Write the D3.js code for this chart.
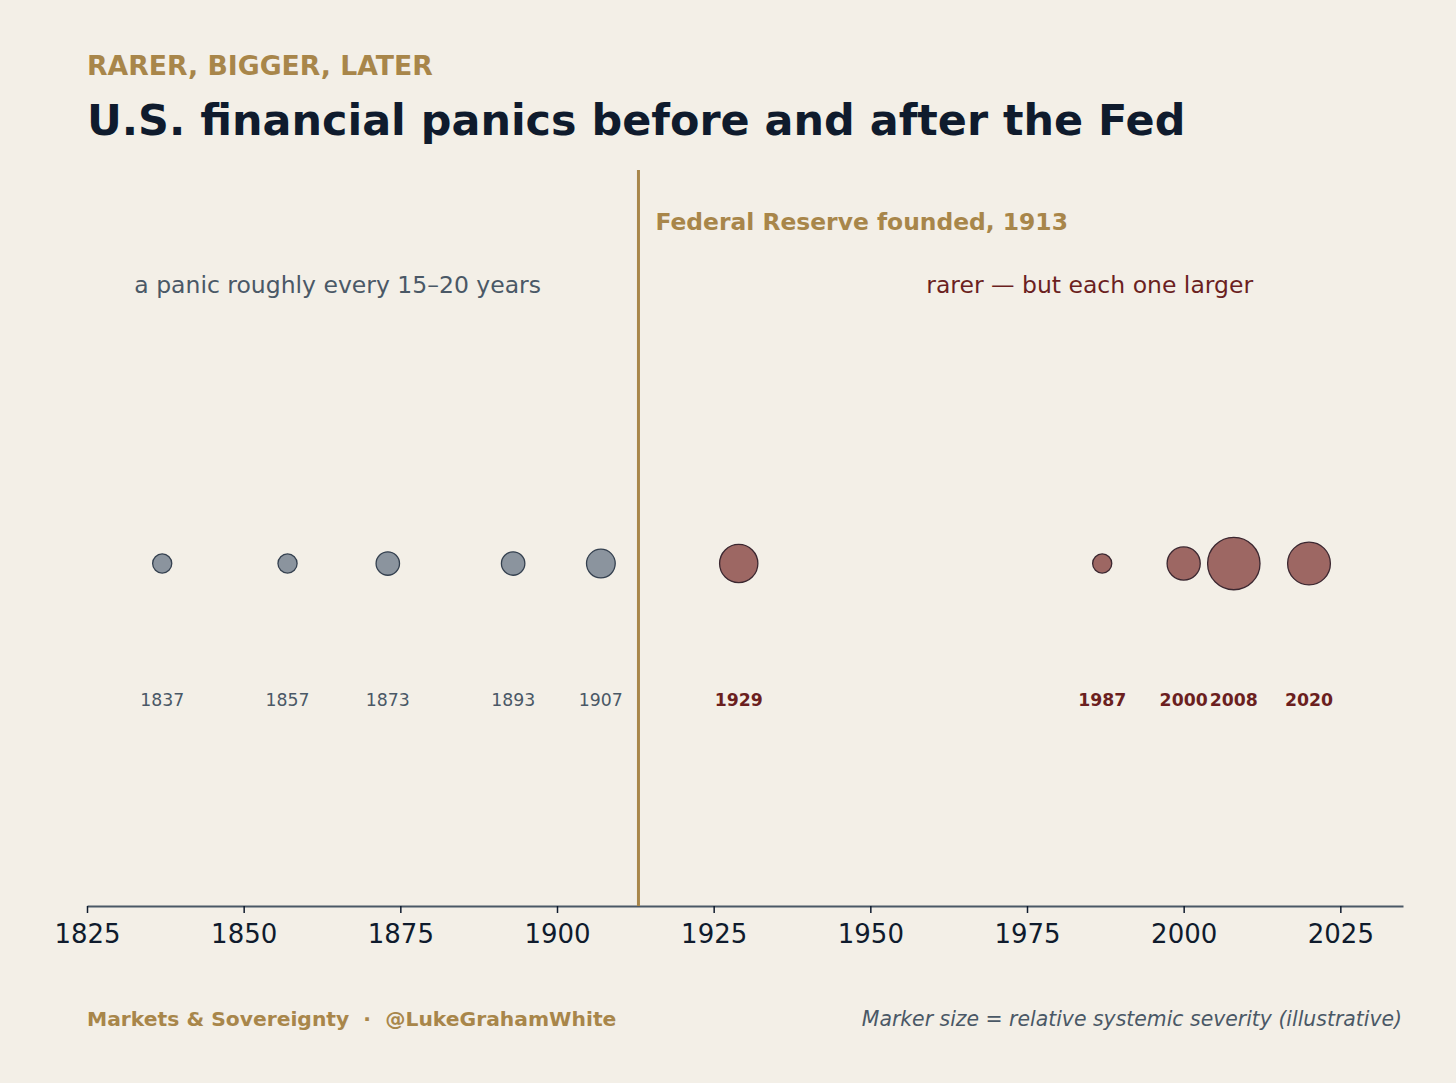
<!DOCTYPE html>
<html>
<head>
<meta charset="utf-8">
<script src="https://cdn.jsdelivr.net/npm/d3@7"></script>
<style>
  body { margin: 0; background: #f3efe7; }
  svg text { font-family: "DejaVu Sans", sans-serif; }
</style>
</head>
<body>
<div id="chart"></div>
<script>
// panic years and illustrative severity (marker area)
const years = [1837, 1857, 1873, 1893, 1907, 1929, 1987, 2000, 2008, 2020];
const severity = [2, 2, 3, 3, 4.5, 8, 2, 6, 15, 10];
const fedYear = 1913;
const xTicks = [1825, 1850, 1875, 1900, 1925, 1950, 1975, 2000, 2025];

const gold = '#a8864a', navy = '#0f1b2d', slate = '#4a5866', maroon = '#6b1f1f';

const W = 1456, H = 1083;
const margin = { top: 170, right: 53, bottom: 177, left: 87 };

const svg = d3.select('#chart').append('svg')
    .attr('width', W)
    .attr('height', H);

svg.append('rect').attr('width', W).attr('height', H).attr('fill', '#f3efe7');

const x = d3.scaleLinear().domain([1825, 2035]).range([margin.left, W - margin.right]);
const y = d3.scaleLinear().domain([-0.7, 0.8]).range([H - margin.bottom, margin.top]);
const r = d3.scaleSqrt().domain([0, 15]).range([0, 26.2]);

const data = years.map((yr, i) => ({ year: yr, sev: severity[i], post: yr > fedYear }));

// titles
svg.append('text')
    .attr('x', 87).attr('y', 75)
    .attr('fill', gold)
    .attr('font-weight', 'bold')
    .attr('font-size', 26.7)
    .text('RARER, BIGGER, LATER');

svg.append('text')
    .attr('x', 87).attr('y', 135)
    .attr('fill', navy)
    .attr('font-weight', 'bold')
    .attr('font-size', 42.9)
    .text('U.S. financial panics before and after the Fed');

// x axis
const xAxis = d3.axisBottom(x).tickValues(xTicks).tickFormat(d3.format('d'))
    .tickSize(7).tickSizeOuter(0).tickPadding(12);
const xAxisG = svg.append('g')
    .attr('transform', 'translate(0,' + (H - margin.bottom) + ')')
    .call(xAxis);
xAxisG.select('.domain').attr('stroke', slate).attr('stroke-width', 2);
xAxisG.selectAll('.tick line').attr('stroke', navy).attr('stroke-width', 1.5);
xAxisG.selectAll('.tick text')
    .attr('fill', navy)
    .attr('font-size', 26)
    .style('font-family', '"DejaVu Sans", sans-serif');

// Fed line
svg.append('line')
    .attr('x1', x(fedYear)).attr('x2', x(fedYear))
    .attr('y1', y(0.8)).attr('y2', y(-0.7))
    .attr('stroke', gold)
    .attr('stroke-width', 3);

svg.append('text')
    .attr('x', x(fedYear) + 17).attr('y', y(0.694))
    .attr('dominant-baseline', 'central')
    .attr('fill', gold)
    .attr('font-weight', 'bold')
    .attr('font-size', 23.4)
    .text('Federal Reserve founded, ' + fedYear);

// era notes
svg.append('text')
    .attr('x', x(1865)).attr('y', y(0.566))
    .attr('text-anchor', 'middle')
    .attr('dominant-baseline', 'central')
    .attr('fill', slate)
    .attr('font-size', 23.5)
    .text('a panic roughly every 15\u201320 years');

svg.append('text')
    .attr('x', x(1985)).attr('y', y(0.566))
    .attr('text-anchor', 'middle')
    .attr('dominant-baseline', 'central')
    .attr('fill', maroon)
    .attr('font-size', 23.5)
    .text('rarer \u2014 but each one larger');

// bubbles
svg.append('g').selectAll('circle')
    .data(data)
    .enter().append('circle')
    .attr('cx', d => x(d.year))
    .attr('cy', y(0) + 1)
    .attr('r', d => r(d.sev))
    .attr('fill', d => d.post ? '#9d6763' : '#8b949e')
    .attr('stroke', d => d.post ? '#3b2730' : '#34404f')
    .attr('stroke-width', 1.3);

// year labels
svg.append('g').selectAll('text')
    .data(data)
    .enter().append('text')
    .attr('x', d => x(d.year))
    .attr('y', y(-0.28))
    .attr('text-anchor', 'middle')
    .attr('dominant-baseline', 'central')
    .attr('font-size', 17.3)
    .attr('font-weight', d => d.post ? 'bold' : 'normal')
    .attr('fill', d => d.post ? maroon : slate)
    .text(d => d.year);

// footer
svg.append('text')
    .attr('x', 87).attr('y', 1019)
    .attr('dominant-baseline', 'central')
    .attr('fill', gold)
    .attr('font-weight', 'bold')
    .attr('font-size', 20.3)
    .attr('xml:space', 'preserve')
    .text('Markets & Sovereignty  \u00b7  @LukeGrahamWhite');

svg.append('text')
    .attr('x', 1402).attr('y', 1019)
    .attr('text-anchor', 'end')
    .attr('dominant-baseline', 'central')
    .attr('fill', slate)
    .attr('font-style', 'italic')
    .attr('font-size', 20.4)
    .text('Marker size = relative systemic severity (illustrative)');
</script>
</body>
</html>
